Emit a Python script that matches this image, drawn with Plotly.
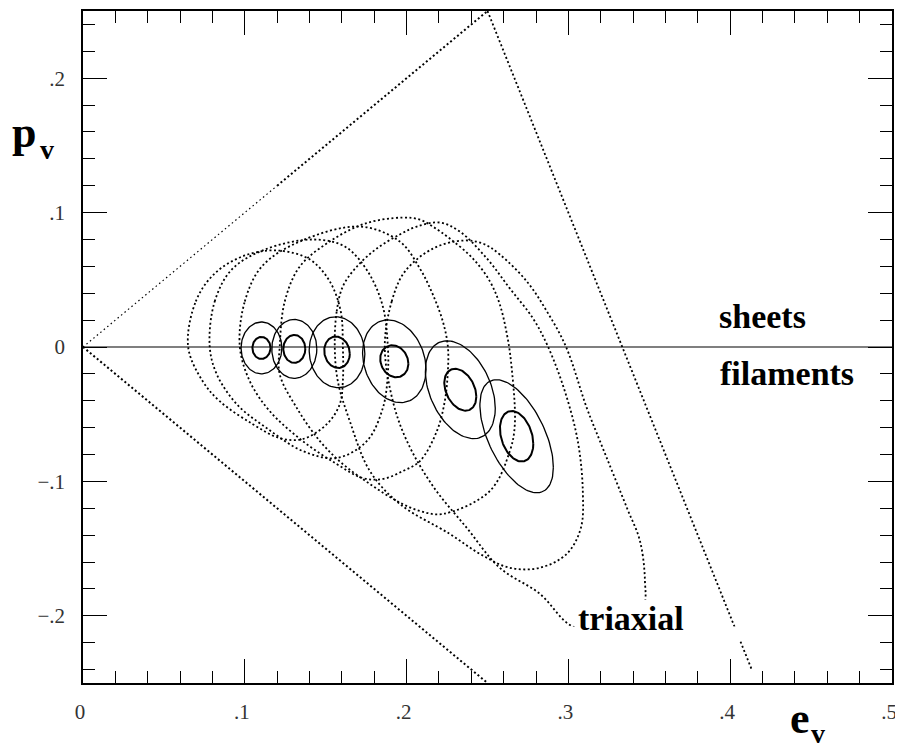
import numpy as np
import plotly.graph_objects as go

# ---- data ----
# boundary lines of the allowed (e_v, p_v) region
upper_e = [0.0, 0.25]
upper_p = [0.0, 0.25]
lower_e = [0.0, 0.25]
lower_p = [0.0, -0.25]
right_e = [0.25, 0.4133]
right_p = [0.25, -0.24]
zero_e = [0.0, 0.5]
zero_p = [0.0, 0.0]

# large dotted contours (e_v, p_v)
c1_e = [0.065, 0.0697, 0.0814, 0.1000, 0.1204, 0.1402, 0.1525, 0.1593, 0.1606, 0.1606, 0.1587, 0.1507, 0.1358, 0.1216, 0.1049, 0.0845, 0.0740]
c1_p = [0.000, 0.0339, 0.0547, 0.0681, 0.0718, 0.0651, 0.0488, 0.0265, 0.0005, -0.0255, -0.0425, -0.0574, -0.0685, -0.0678, -0.0574, -0.0403, -0.0255]

c2_e = [0.0783, 0.0814, 0.0920, 0.1124, 0.1420, 0.1618, 0.1760, 0.1853, 0.1884, 0.1884, 0.1853, 0.1754, 0.1568, 0.1358, 0.1136, 0.0950, 0.0827]
c2_p = [0.0005, 0.0339, 0.0577, 0.0725, 0.0800, 0.0748, 0.0562, 0.0302, 0.0005, -0.0203, -0.0455, -0.0700, -0.0826, -0.0774, -0.0604, -0.0425, -0.0203]

c3_e = [0.0969, 0.1000, 0.1105, 0.1340, 0.1711, 0.1958, 0.2082, 0.2162, 0.2224, 0.2255, 0.2255, 0.2236, 0.2187, 0.2082, 0.1977, 0.1853, 0.1729, 0.1568, 0.1358, 0.1154, 0.1031]
c3_p = [0.0005, 0.0339, 0.0599, 0.0785, 0.0896, 0.0785, 0.0584, 0.0391, 0.0190, 0.0005, -0.0181, -0.0403, -0.0626, -0.0849, -0.0923, -0.0982, -0.0975, -0.0871, -0.0700, -0.0477, -0.0255]

c4_e = [0.1216, 0.1247, 0.1340, 0.1525, 0.1742, 0.1971, 0.2082, 0.2162, 0.2267, 0.2409, 0.2515, 0.2576, 0.2620, 0.2645, 0.2669, 0.2638, 0.2515, 0.2224, 0.2082, 0.1940, 0.1773, 0.1606, 0.1464, 0.1322, 0.1216]
c4_p = [0.0005, 0.0339, 0.0599, 0.0785, 0.0918, 0.0963, 0.0948, 0.0896, 0.0807, 0.0659, 0.0488, 0.0317, 0.0094, -0.0106, -0.0574, -0.0774, -0.1071, -0.1242, -0.1220, -0.1146, -0.1019, -0.0871, -0.0700, -0.0455, -0.0203]

c5_e = [0.1556, 0.1568, 0.1606, 0.1693, 0.1816, 0.1958, 0.2063, 0.2205, 0.2329, 0.2496, 0.2638, 0.2781, 0.2873, 0.2978, 0.3058, 0.3089, 0.3077, 0.2990, 0.2823, 0.2638, 0.2453, 0.2267, 0.1958, 0.1773, 0.1649, 0.1575]
c5_p = [0.0005, 0.0265, 0.0451, 0.0599, 0.0733, 0.0837, 0.0896, 0.0926, 0.0859, 0.0659, 0.0436, 0.0213, 0.0005, -0.0329, -0.0700, -0.1071, -0.1346, -0.1539, -0.1643, -0.1643, -0.1539, -0.1391, -0.1168, -0.0923, -0.0552, -0.0255]

c6_e = [0.1865, 0.1908, 0.1989, 0.2162, 0.2347, 0.2471, 0.2576, 0.2743, 0.2867, 0.2984, 0.3114, 0.3195, 0.3362, 0.3442, 0.3473, 0.3461, 0.3257, 0.3016, 0.2823, 0.2576, 0.2372, 0.2162, 0.2002, 0.1915]
c6_p = [0.0005, 0.0339, 0.0561, 0.0732, 0.0792, 0.0770, 0.0688, 0.0488, 0.0265, 0.0005, -0.0455, -0.0700, -0.1198, -0.1442, -0.1739, -0.1939, -0.2147, -0.2073, -0.1836, -0.1643, -0.1346, -0.1034, -0.0700, -0.0403]

# small solid ellipses: centre, half-widths of bounding box, tilt correlation
ell_ce = [0.1103, 0.1306, 0.1570, 0.1924, 0.2332, 0.2680]
ell_cp = [-0.0007, -0.0014, -0.0039, -0.0106, -0.0318, -0.0664]
inner_a = [0.0056, 0.0068, 0.0079, 0.0087, 0.0099, 0.0103]
inner_b = [0.0082, 0.0104, 0.0117, 0.0119, 0.0156, 0.0188]
inner_rho = [0.0, 0.0, -0.10, -0.15, -0.33, -0.30]
outer_a = [0.0126, 0.0139, 0.0172, 0.0196, 0.0216, 0.0227]
outer_b = [0.0193, 0.0219, 0.0264, 0.0308, 0.0364, 0.0421]
outer_rho = [0.0, 0.0, -0.05, -0.20, -0.38, -0.55]

x_tickvals = [0, 0.1, 0.2, 0.3, 0.4, 0.5]
x_ticktext = ["0", ".1", ".2", ".3", ".4", ".5"]
y_tickvals = [-0.2, -0.1, 0, 0.1, 0.2]
y_ticktext = ["\u2212.2", "\u2212.1", "0", ".1", ".2"]

# ---- figure ----
fig = go.Figure()
DOT = "2px,2.5px"

def add_line(x, y, width=1.6, dash=DOT, shape="linear"):
    fig.add_trace(go.Scatter(x=x, y=y, mode="lines", hoverinfo="skip",
                             line=dict(color="black", width=width, dash=dash, shape=shape)))

add_line(zero_e, zero_p, width=1.2, dash="solid")
# the p = e boundary is printed faint near the origin and heavier further up
e_mid = 0.12
p_mid = float(np.interp(e_mid, upper_e, upper_p))
add_line([upper_e[0], e_mid], [upper_p[0], p_mid], width=1.2, dash="1.5px,3px")
add_line([e_mid, upper_e[1]], [p_mid, upper_p[1]], width=2.0)
add_line(lower_e, lower_p, width=2.0)
add_line(right_e, right_p, width=1.8)

for ce, cp in [(c1_e, c1_p), (c2_e, c2_p), (c3_e, c3_p), (c4_e, c4_p), (c5_e, c5_p), (c6_e, c6_p)]:
    add_line(ce + [ce[0]], cp + [cp[0]], width=1.8, shape="spline")

def ellipse(cx, cy, a, b, rho, n=120):
    t = np.linspace(0, 2 * np.pi, n)
    phi = np.arccos(rho)
    return cx + a * np.cos(t), cy + b * np.cos(t - phi)

for i in range(6):
    ex, ey = ellipse(ell_ce[i], ell_cp[i], outer_a[i], outer_b[i], outer_rho[i])
    add_line(ex, ey, width=1.3, dash="solid")
    ex, ey = ellipse(ell_ce[i], ell_cp[i], inner_a[i], inner_b[i], inner_rho[i])
    add_line(ex, ey, width=2.0, dash="solid")

tickfont = dict(family="Liberation Serif", size=21, color="#333333")
axis_common = dict(
    ticks="inside", ticklen=24, tickwidth=1.3, tickcolor="black",
    showline=True, linecolor="black", linewidth=1.5, mirror="allticks",
    showgrid=False, zeroline=False, tickfont=tickfont,
)

fig.update_xaxes(range=[0, 0.5], tickvals=x_tickvals, ticktext=x_ticktext, ticklabelstandoff=9,
                 ticklabelshift=-3,
                 minor=dict(dtick=0.02, tick0=0, ticks="inside", ticklen=12, tickwidth=1.3,
                            tickcolor="black", showgrid=False), **axis_common)
fig.update_yaxes(range=[-0.25, 0.25], tickvals=y_tickvals, ticktext=y_ticktext, ticklabelstandoff=12,
                 minor=dict(dtick=0.02, tick0=0, ticks="inside", ticklen=12, tickwidth=1.3,
                            tickcolor="black", showgrid=False), **axis_common)

# white patch under the "triaxial" label (as in the scanned figure)
fig.add_shape(type="rect", xref="x", yref="y", x0=0.2978, x1=0.409, y0=-0.2189, y1=-0.208,
              fillcolor="white", line=dict(width=0), layer="above")

# the page body has an 8px default margin, so the figure is drawn 8px smaller
OFF = 8
W, H = 903 - OFF, 749 - OFF
L, R, T, B = 83 - OFF, 11, 9 - OFF, 66
pw, ph = W - L - R, H - T - B

def px(x):
    return (x - OFF - L) / pw

def py(y):
    return (H - B - (y - OFF)) / ph

bold = dict(family="Liberation Serif", color="black")
annots = [
    dict(text="<b>p</b>", x=px(24), y=py(131), size=44),
    dict(text="<b>v</b>", x=px(47), y=py(148), size=28),
    dict(text="<b>e</b>", x=px(800), y=py(719), size=44),
    dict(text="<b>v</b>", x=px(818), y=py(734), size=28),
    dict(text="<b>sheets</b>", x=px(762), y=py(315), size=34),
    dict(text="<b>filaments</b>", x=px(787), y=py(373), size=34),
]
for a in annots:
    fig.add_annotation(text=a["text"], x=a["x"], y=a["y"], xref="paper", yref="paper",
                       showarrow=False, xanchor="center", yanchor="middle",
                       font=dict(size=a["size"], **bold))
fig.add_annotation(text="<b>triaxial</b>", x=px(631), y=py(618), xref="paper", yref="paper",
                   showarrow=False, xanchor="center", yanchor="middle", bgcolor="white",
                   borderpad=0, font=dict(size=34, **bold))

fig.update_layout(width=W, height=H, margin=dict(l=L, r=R, t=T, b=B),
                  paper_bgcolor="white", plot_bgcolor="white", showlegend=False)

fig.write_html("out.html")
